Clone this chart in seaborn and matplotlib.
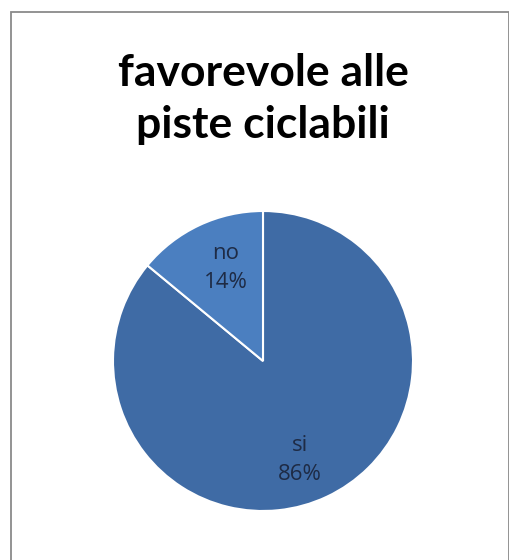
import matplotlib
matplotlib.use("Agg")
import matplotlib.pyplot as plt
import seaborn as sns
from matplotlib.patches import Rectangle

# data
categories = ["si", "no"]
values = [86, 14]
colors = ["#3F6BA5", "#4B7FC0"]
title = "favorevole alle\npiste ciclabili"

sns.set_theme(style="white")
plt.rcParams['font.family'] = ['Lato', 'DejaVu Sans']

W, H = 510, 560
fig = plt.figure(figsize=(W / 100, H / 100), dpi=100)
fig.patch.set_facecolor("white")

# chart border
fig.add_artist(Rectangle((11 / W, -0.02), (509 - 11) / W, (548) / H + 0.02,
                         transform=fig.transFigure, fill=False,
                         edgecolor="#8a8a8a", linewidth=1.3))

cx, cy, r = 263, H - 361, 150
ax = fig.add_axes([(cx - r) / W, (cy - r) / H, 2 * r / W, 2 * r / H])
wedges, _ = ax.pie(values, colors=colors, startangle=90, counterclock=False,
                   wedgeprops=dict(edgecolor="white", linewidth=1.5))
ax.set_xlim(-1, 1)
ax.set_ylim(-1, 1)
ax.set_aspect("equal")
ax.axis("off")

label_pos = {"si": (0.245, -0.66), "no": (-0.25, 0.62)}
total = sum(values)
for cat, v in zip(categories, values):
    x, y = label_pos[cat]
    ax.text(x, y, f"{cat}\n{round(100 * v / total)}%", ha="center", va="center",
            fontsize=16, color="#1E2B45", linespacing=1.5,
            family=["Open Sans", "DejaVu Sans"])

fig.text(cx / W, (H - 99) / H, title, ha="center", va="center",
         fontsize=32, fontweight="bold", color="black", linespacing=1.38)

fig.savefig("out.png", dpi=100, facecolor="white")
